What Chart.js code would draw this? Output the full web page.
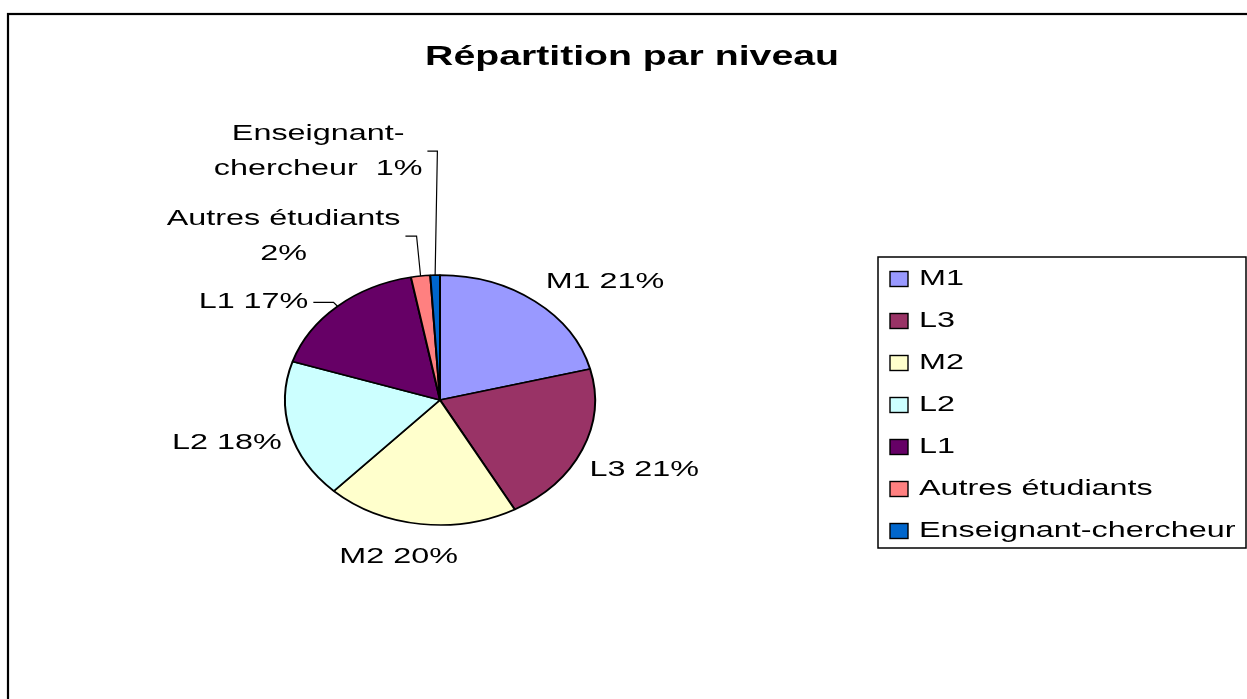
<!DOCTYPE html>
<html lang="fr">
<head>
<meta charset="utf-8">
<title>Répartition par niveau</title>
<script src="https://cdn.jsdelivr.net/npm/chart.js@4/dist/chart.umd.min.js"></script>
<style>
  html, body { margin: 0; padding: 0; background: #fff; overflow: hidden; }
  canvas { display: block; }
</style>
</head>
<body>
<canvas id="graficoNiveau" width="1247" height="699"></canvas>
<script>
const titre = 'Répartition par niveau';
const niveaux = ['M1', 'L3', 'M2', 'L2', 'L1', 'Autres étudiants', 'Enseignant-chercheur'];
const pourcentages = [21, 21, 20, 18, 17, 2, 1];
const couleurs = ['#9999FF', '#993366', '#FFFFCC', '#CCFFFF', '#660066', '#FF8080', '#0066CC'];

// décalage des étiquettes depuis le bord de chaque part (px)
const decalages = [[70, -19], [62, 20], [-22, 33], [-63, 12], [-84, -4], [-137, -40], [-117, -124]];
const avecTrait = [false, false, false, false, true, true, true];
const surDeuxLignes = [false, false, false, false, false, true, true];

const ECRASE = 0.806;   // la tarte est aplatie verticalement
const POLICE = '"Liberation Sans", Arial, sans-serif';

function texte(ctx, str, x, y, align, etire) {
    ctx.save();
    ctx.translate(x, y);
    ctx.scale(etire || 1.47, 1);
    ctx.textAlign = align || 'center';
    ctx.textBaseline = 'middle';
    ctx.fillText(str, 0, 0);
    ctx.restore();
}

function largeur(ctx, str) {
    return ctx.measureText(str).width * 1.47;
}

const cadre = {
    id: 'cadre',
    beforeDraw(chart) {
        const ctx = chart.ctx;
        ctx.save();
        ctx.fillStyle = '#fff';
        ctx.fillRect(0, 0, chart.width, chart.height);
        ctx.strokeStyle = '#000';
        ctx.lineWidth = 2.2;
        ctx.strokeRect(8, 14, 1400, 900);
        ctx.restore();
    }
};

const tarteAplatie = {
    id: 'tarteAplatie',
    beforeDatasetsDraw(chart) {
        const arc = chart.getDatasetMeta(0).data[0];
        const ctx = chart.ctx;
        ctx.save();
        ctx.translate(arc.x, arc.y);
        ctx.scale(1, ECRASE);
        ctx.translate(-arc.x, -arc.y);
    },
    afterDatasetsDraw(chart) {
        chart.ctx.restore();
    }
};

const etiquettes = {
    id: 'etiquettes',
    afterDraw(chart) {
        const ctx = chart.ctx;
        const arcs = chart.getDatasetMeta(0).data;
        ctx.save();
        ctx.fillStyle = '#000';
        ctx.strokeStyle = '#000';
        ctx.lineWidth = 1.2;

        // titre
        ctx.font = 'bold 28px ' + POLICE;
        texte(ctx, titre, 632, 57, 'center', 1.40);

        // étiquettes des parts
        ctx.font = '22px ' + POLICE;
        arcs.forEach((arc, i) => {
            const mid = (arc.startAngle + arc.endAngle) / 2;
            const bx = arc.x + Math.cos(mid) * arc.outerRadius;
            const by = arc.y + Math.sin(mid) * arc.outerRadius * ECRASE;
            const pct = pourcentages[i] + '%';
            let lignes;
            if (surDeuxLignes[i]) {
                const nom = niveaux[i];
                const k = nom.indexOf('-');
                lignes = k > 0 ? [nom.slice(0, k + 1), nom.slice(k + 1) + '  ' + pct] : [nom, pct];
            } else {
                lignes = [niveaux[i] + ' ' + pct];
            }
            const cx = bx + decalages[i][0];
            const cy = by + decalages[i][1];
            lignes.forEach((l, j) => texte(ctx, l, cx, cy + (j - (lignes.length - 1) / 2) * 35));

            if (avecTrait[i]) {
                const w = Math.max(...lignes.map(l => largeur(ctx, l)));
                const x0 = cx + w / 2 + 5;
                const x1 = Math.max(x0 + 10, bx - 4);
                ctx.beginPath();
                ctx.moveTo(x0, cy);
                ctx.lineTo(x1, cy);
                ctx.lineTo(bx, by);
                ctx.stroke();
            }
        });

        // légende
        ctx.lineWidth = 1.5;
        ctx.strokeRect(878, 257, 368, 291);
        niveaux.forEach((nom, i) => {
            const y = 279 + i * 42;
            ctx.fillStyle = couleurs[i];
            ctx.fillRect(890, y - 7.5, 18, 15);
            ctx.lineWidth = 1.4;
            ctx.strokeRect(890, y - 7.5, 18, 15);
            ctx.fillStyle = '#000';
            texte(ctx, nom, 919, y, 'left');
        });
        ctx.restore();
    }
};

new Chart(document.getElementById('graficoNiveau'), {
    type: 'pie',
    data: {
        labels: niveaux,
        datasets: [{
            data: pourcentages,
            backgroundColor: couleurs,
            borderColor: '#000',
            borderWidth: 2,
            clip: false
        }]
    },
    options: {
        responsive: false,
        animation: false,
        events: [],
        radius: 155,
        layout: {
            padding: { left: 280, right: 647, top: 240, bottom: 139 }
        },
        plugins: {
            legend: { display: false },
            tooltip: { enabled: false },
            title: { display: false }
        }
    },
    plugins: [cadre, tarteAplatie, etiquettes]
});
</script>
</body>
</html>
